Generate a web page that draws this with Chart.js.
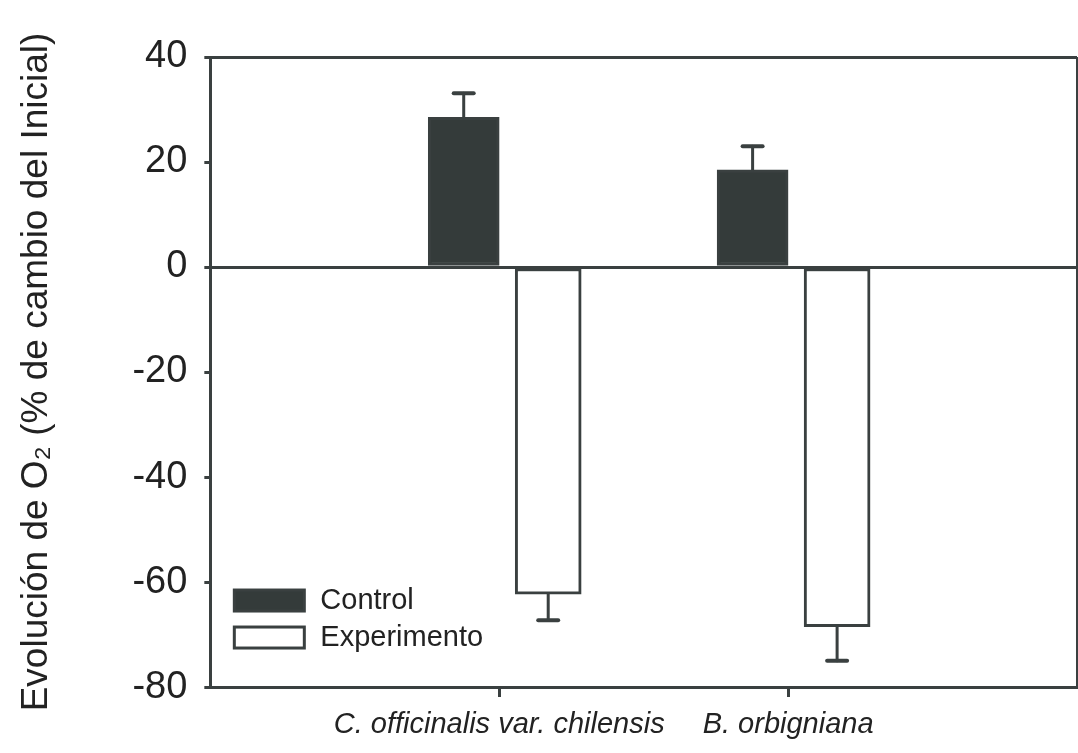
<!DOCTYPE html>
<html>
<head>
<meta charset="utf-8">
<script src="https://cdn.jsdelivr.net/npm/chart.js@4/dist/chart.umd.min.js"></script>
<style>
  html, body { margin: 0; padding: 0; background: #fff; }
  #wrap { width: 1078px; height: 753px; }
</style>
</head>
<body>
<div id="wrap"><canvas id="chart"></canvas></div>
<script>
// empty end slots keep the two species at one and two thirds of the axis
const categories = ["", "C. officinalis var. chilensis", "B. orbigniana", ""];
const controlValues = [null, 28.5, 18.5, null];
const controlErrors = [null, 4.6, 4.5, null];
const experimentValues = [null, -62.3, -68.5, null];
const experimentErrors = [null, 5.0, 6.5, null];
const yTicks = [40, 20, 0, -20, -40, -60, -80];

const ink = "#3a4040";
const fillDark = "#343b3a";
const font = "'Liberation Sans', Arial, sans-serif";

// one-sided error bars: up for positive bars, down for negative ones
const errorBars = {
    id: "errorBars",
    afterDatasetsDraw(chart) {
        const ctx = chart.ctx;
        const y = chart.scales.y;
        const errs = [controlErrors, experimentErrors];
        ctx.save();
        ctx.strokeStyle = ink;
        ctx.lineCap = "round";
        chart.data.datasets.forEach((ds, di) => {
            chart.getDatasetMeta(di).data.forEach((bar, i) => {
                const v = ds.data[i];
                if (v == null) return;
                const end = v >= 0 ? v + errs[di][i] : v - errs[di][i];
                const py0 = y.getPixelForValue(v);
                const py1 = y.getPixelForValue(end);
                ctx.lineWidth = 3;
                ctx.beginPath();
                ctx.moveTo(bar.x, py0);
                ctx.lineTo(bar.x, py1);
                ctx.stroke();
                ctx.lineWidth = 4;
                ctx.beginPath();
                ctx.moveTo(bar.x - 10, py1);
                ctx.lineTo(bar.x + 10, py1);
                ctx.stroke();
            });
        });
        ctx.restore();
    }
};

// legend sits inside the plot, lower left corner
const insideLegend = {
    id: "insideLegend",
    afterDraw(chart) {
        const ctx = chart.ctx;
        const area = chart.chartArea;
        const x = area.left + 24;
        let top = area.bottom - 97;
        ctx.save();
        ctx.font = "29px " + font;
        ctx.textBaseline = "middle";
        chart.data.datasets.forEach(ds => {
            ctx.fillStyle = ds.backgroundColor;
            ctx.strokeStyle = ink;
            ctx.lineWidth = 3;
            ctx.fillRect(x, top, 70, 21);
            ctx.strokeRect(x, top, 70, 21);
            ctx.fillStyle = "#222";
            ctx.fillText(ds.label, x + 86, top + 11);
            top += 37;
        });
        ctx.restore();
    }
};

new Chart(document.getElementById("chart"), {
    type: "bar",
    data: {
        labels: categories,
        datasets: [{
            label: "Control",
            data: controlValues,
            backgroundColor: fillDark,
            borderColor: ink,
            borderWidth: 3,
            borderSkipped: false,
            barThickness: 71
        }, {
            label: "Experimento",
            data: experimentValues,
            backgroundColor: "#ffffff",
            borderColor: ink,
            borderWidth: 3,
            borderSkipped: false,
            barThickness: 98,
            maxBarThickness: 66
        }]
    },
    options: {
        responsive: true,
        maintainAspectRatio: false,
        animation: false,
        layout: { padding: { left: 15, right: 1, top: 57, bottom: 0 } },
        plugins: {
            legend: { display: false },
            tooltip: { enabled: false }
        },
        scales: {
            x: {
                offset: false,
                border: { color: ink, width: 3 },
                grid: {
                    offset: false,
                    color: c => c.index === 3 ? ink : "transparent",
                    tickColor: c => (c.index === 1 || c.index === 2) ? ink : "transparent",
                    lineWidth: 3,
                    tickLength: 10
                },
                ticks: {
                    autoSkip: false,
                    maxRotation: 0,
                    padding: 0,
                    color: "#222",
                    font: { family: font, size: 29, style: "italic", lineHeight: 1.93 }
                }
            },
            y: {
                min: -80,
                max: 40,
                afterBuildTicks: scale => { scale.ticks = yTicks.map(v => ({ value: v })); },
                border: { color: ink, width: 3 },
                grid: {
                    color: c => (c.tick && (c.tick.value === 0 || c.tick.value === 40)) ? ink : "transparent",
                    tickColor: ink,
                    lineWidth: 3,
                    tickLength: 6
                },
                ticks: {
                    padding: 17,
                    color: "#222",
                    font: { family: font, size: 38 }
                },
                title: {
                    display: true,
                    text: "Evolución de O₂ (% de cambio del Inicial)",
                    color: "#222",
                    font: { family: font, size: 37 },
                    padding: { top: 0, bottom: 56 }
                }
            }
        }
    },
    plugins: [errorBars, insideLegend]
});
</script>
</body>
</html>
